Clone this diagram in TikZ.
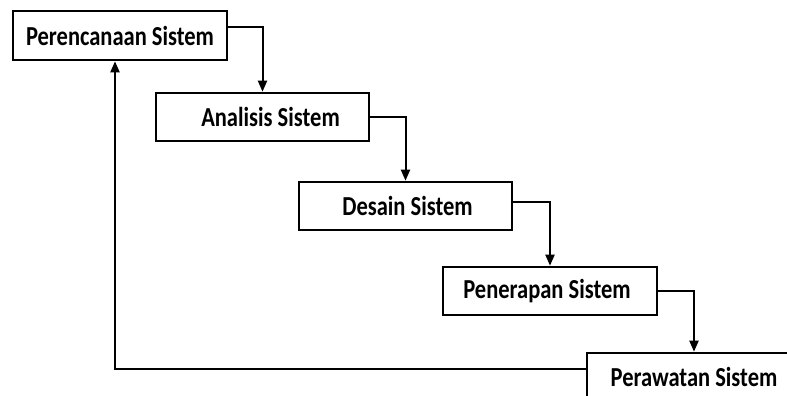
\documentclass[tikz,border=0pt]{standalone}
\usepackage{fontspec}
\setmainfont{Carlito}
\usetikzlibrary{arrows.meta}
\newcommand{\tallt}[1]{\scalebox{1}[1.22]{#1}}
\begin{document}
\begin{tikzpicture}[x=1pt,y=1pt,
  box/.style={draw=black,line width=2.6pt,fill=white,minimum width=214pt,minimum height=48pt,inner sep=0pt,font=\fontsize{22.5}{26}\selectfont\bfseries},
  conn/.style={draw=black,line width=2pt,-{Triangle[length=11pt,width=9pt]}}]
\useasboundingbox (0,0) rectangle (787,-396);
\clip (0,0) rectangle (787,-396);
\fill[white] (0,0) rectangle (787,-396);
\node[box,minimum height=49pt] (b1) at (120,-35.5) {\tallt{Perencanaan Sistem}};
\node[box,minimum width=213pt] (b2) at (262.5,-117) {\hspace*{16pt}\tallt{Analisis Sistem}};
\node[box,minimum width=213pt] (b3) at (405.5,-206) {\hspace*{4pt}\tallt{Desain Sistem}};
\node[box] (b4) at (550,-291) {\tallt{Penerapan Sistem}\hspace*{6pt}};
\node[box] (b5) at (694,-377) {\tallt{Perawatan Sistem}};
\draw[conn] ([yshift=8.5pt]b1.east) -| (b2.north);
\draw[conn] (b2.east) -| (b3.north);
\draw[conn] ([yshift=4pt]b3.east) -| (b4.north);
\draw[conn] (b4.east) -| (b5.north);
\draw[conn] ([yshift=8pt]b5.west) -| ([xshift=-5pt]b1.south);
\end{tikzpicture}
\end{document}
